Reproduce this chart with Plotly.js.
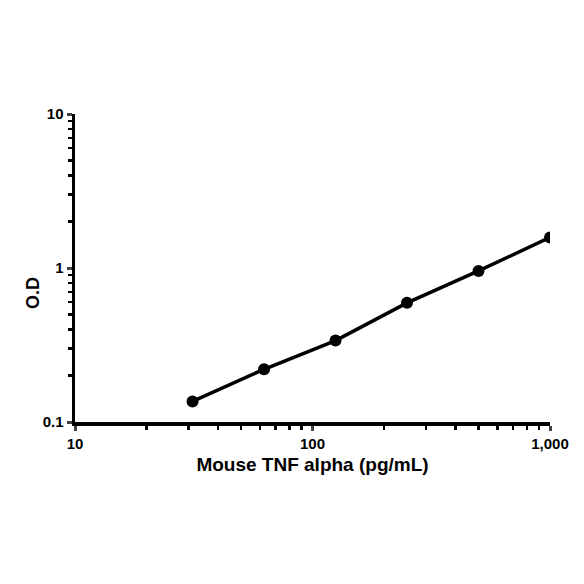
<!DOCTYPE html>
<html>
<head>
<meta charset="utf-8">
<script src="https://cdn.plot.ly/plotly-3.0.1.min.js"></script>
<style>
  html, body { margin: 0; padding: 0; background: #fff; }
  #chart { width: 584px; height: 584px; }
</style>
</head>
<body>
<div id="chart"></div>
<script>
// standard curve: concentration vs optical density
const conc = [31.25, 62.5, 125, 250, 500, 1000];
const od = [0.136, 0.22, 0.338, 0.594, 0.957, 1.58];

const xTickVals = [10, 100, 1000];
const xTickText = ['10', '100', '1,000'];
const xMinorVals = [20, 30, 40, 50, 60, 70, 80, 90, 200, 300, 400, 500, 600, 700, 800, 900];
const yTickVals = [0.1, 1, 10];
const yTickText = ['0.1', '1', '10'];
const yMinorVals = [0.2, 0.3, 0.4, 0.5, 0.6, 0.7, 0.8, 0.9, 2, 3, 4, 5, 6, 7, 8, 9];

const data = [
    {
        x: conc,
        y: od,
        type: 'scatter',
        mode: 'lines+markers',
        line: { color: '#000', width: 3.5 },
        marker: { color: '#000', size: 12 },
        hoverinfo: 'skip'
    }
];

const layout = {
    width: 584,
    height: 584,
    showlegend: false,
    paper_bgcolor: '#fff',
    plot_bgcolor: '#fff',
    font: { family: 'Liberation Sans, Arial, sans-serif', color: '#000', size: 15 },
    margin: { l: 75, r: 34, t: 114, b: 162, pad: 0 },
    xaxis: {
        type: 'log',
        range: [1, 3],
        tickvals: xTickVals,
        ticktext: xTickText,
        ticks: 'outside',
        ticklen: 5,
        tickwidth: 3,
        tickfont: { size: 15, weight: 'bold' },
        showline: true,
        linewidth: 3.5,
        linecolor: '#000',
        showgrid: false,
        zeroline: false,
        minor: { tickmode: 'array', tickvals: xMinorVals, ticks: 'outside', ticklen: 4, tickwidth: 2.5, tickcolor: '#000', showgrid: false },
        title: { text: 'Mouse TNF alpha (pg/mL)', font: { size: 19, weight: 'bold' }, standoff: 8 }
    },
    yaxis: {
        type: 'log',
        range: [-1, 1],
        tickvals: yTickVals,
        ticktext: yTickText,
        ticks: 'outside',
        ticklen: 5,
        tickwidth: 3,
        tickfont: { size: 15, weight: 'bold' },
        showline: true,
        linewidth: 3.5,
        linecolor: '#000',
        showgrid: false,
        zeroline: false,
        minor: { tickmode: 'array', tickvals: yMinorVals, ticks: 'outside', ticklen: 4, tickwidth: 2.5, tickcolor: '#000', showgrid: false }
    },
    annotations: [
        {
            text: 'O.D',
            xref: 'paper',
            yref: 'paper',
            x: -0.09,
            y: 0.42,
            xanchor: 'center',
            yanchor: 'middle',
            textangle: -90,
            showarrow: false,
            font: { size: 18, weight: 'bold' }
        }
    ]
};

Plotly.newPlot('chart', data, layout, { displayModeBar: false, staticPlot: true });
</script>
</body>
</html>
